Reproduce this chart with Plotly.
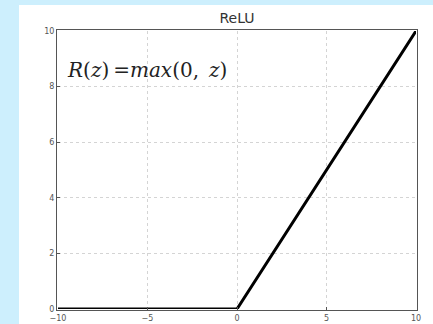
import plotly.graph_objects as go

# ReLU data
z_vals = [-10, 0, 10]
relu_vals = [0, 0, 10]
x_ticks = [-10, -5, 0, 5, 10]
y_ticks = [0, 2, 4, 6, 8, 10]

W, H = 433, 324
left, right, top, bottom = 58, 17, 31, 15
pw = W - left - right
ph = H - top - bottom

fig = go.Figure()

fig.add_trace(go.Scatter(x=z_vals, y=relu_vals, mode='lines',
                         line=dict(color='black', width=3), cliponaxis=False,
                         showlegend=False))

# white figure panel on the light blue page
fig.add_shape(type='rect', xref='paper', yref='paper', layer='below',
              x0=(19 - left) / pw, x1=(W + 5 - left) / pw,
              y0=-(bottom + 5) / ph, y1=(H - 5 - bottom) / ph,
              fillcolor='white', line=dict(width=0))

fig.add_annotation(x=-9.6, y=8.6, xanchor='left', yanchor='middle',
                   text='<i>R</i>(<i>z</i>)\u2009=<i>max</i>(0,\u2002<i>z</i>)',
                   showarrow=False,
                   font=dict(family='DejaVu Serif', size=20, color='#222'))

axis_style = dict(showline=True, linecolor='#555', linewidth=1, mirror=True,
                  showgrid=True, gridcolor='#d4d4d4', griddash='dot', gridwidth=1,
                  zeroline=False, ticks='inside', ticklen=3, tickcolor='#555',
                  automargin=False,
                  tickfont=dict(family='DejaVu Sans', size=8, color='#555'))

fig.update_xaxes(range=[-10, 10], tickvals=x_ticks,
                 ticktext=['\u221210', '\u22125', '0', '5', '10'], **axis_style)
fig.update_yaxes(range=[0, 10], tickvals=y_ticks, **axis_style)

fig.update_layout(
    width=W, height=H,
    margin=dict(l=left, r=right, t=top, b=bottom, pad=1, autoexpand=False),
    paper_bgcolor='#cdeffd', plot_bgcolor='white',
    title=dict(text='ReLU', x=(left + pw / 2) / W, xanchor='center',
               y=1 - 18 / H, yanchor='middle', automargin=False,
               font=dict(family='DejaVu Sans', size=14, color='#333')),
)

fig.write_html("out.html", config={'displayModeBar': False},
               post_script="document.body.style.margin='0';")
